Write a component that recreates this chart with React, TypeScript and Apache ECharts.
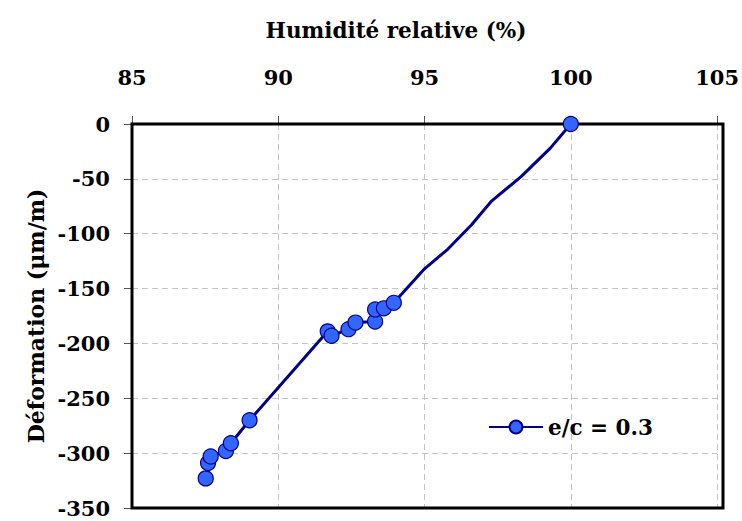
import React, { useEffect, useRef } from "react";
import * as echarts from "echarts";

// Relative humidity (%) and deformation (µm/m); marked = drawn with a marker
const humidity = [87.52, 87.6, 87.69, 88.21, 88.38, 89.02, 91.69, 91.82, 92.4, 92.64, 93.31, 93.31, 93.61, 93.95, 95.0, 95.8, 96.6, 97.3, 98.3, 99.3, 100];
const deformation = [-323, -309, -303, -298, -291, -270, -189, -193, -187, -181, -180, -169, -168, -163, -132, -114, -92, -70, -48, -22, 0];
const marked = [true, true, true, true, true, true, true, true, true, true, true, true, true, true, false, false, false, false, false, false, true];

const seriesName = "e/c = 0.3";
const xTitle = "Humidité relative (%)";
const yTitle = "Déformation (μm/m)";
const xMin = 85, xMax = 105, xStep = 5;
const yMin = -350, yMax = 0, yStep = 50;

const FONT = "'DejaVu Serif', serif";
const G = { left: 132, top: 124, right: 19, bottom: 13, w: 742, h: 521 };

export default function App() {
  const ref = useRef<HTMLDivElement>(null);
  useEffect(() => {
    if (!ref.current) return;
    const chart = echarts.init(ref.current, undefined, { renderer: "svg" });
    const data = humidity.map((h, i) => {
      const item: any = { value: [h, deformation[i]] };
      if (!marked[i]) item.symbol = "none";
      return item;
    });
    const split = { show: true, lineStyle: { color: "#c4c4c4", type: [6, 4] as any, width: 1 } };
    const lbl = { fontFamily: FONT, fontWeight: "bold", fontSize: 21, color: "#000" };
    chart.setOption({
      animation: false,
      backgroundColor: "#fff",
      textStyle: { fontFamily: FONT },
      grid: { left: G.left, right: G.right, top: G.top, bottom: G.bottom, show: false },
      graphic: [
        {
          type: "text",
          x: 396,
          y: 30,
          style: { text: xTitle, fontFamily: FONT, fontWeight: "bold", fontSize: 21.5, fill: "#000", textAlign: "center", textVerticalAlign: "middle" },
        },
        {
          type: "rect",
          z: 1,
          shape: { x: G.left, y: G.top, width: G.w - G.left - G.right, height: G.h - G.top - G.bottom },
          style: { fill: "none", stroke: "#000", lineWidth: 3 },
        },
      ],
      legend: {
        show: true,
        left: 488,
        top: 416,
        padding: 0,
        itemWidth: 54,
        itemHeight: 16,
        textStyle: { fontFamily: FONT, fontWeight: "bold", fontSize: 21.5, color: "#000" },
        data: [seriesName],
      },
      xAxis: {
        type: "value",
        position: "top",
        min: xMin,
        max: xMax,
        interval: xStep,
        axisLine: { show: false },
        axisTick: { show: true, inside: false, length: 8, lineStyle: { color: "#555", width: 1 } },
        axisLabel: { margin: 36, ...lbl },
        splitLine: split,
      },
      yAxis: {
        type: "value",
        min: yMin,
        max: yMax,
        interval: yStep,
        name: yTitle,
        nameLocation: "middle",
        nameGap: 84,
        nameTextStyle: { fontFamily: FONT, fontWeight: "bold", fontSize: 22, color: "#000" },
        axisLine: { show: false },
        axisTick: { show: true, inside: false, length: 8, lineStyle: { color: "#555", width: 1 } },
        axisLabel: { margin: 22, ...lbl },
        splitLine: split,
      },
      series: [
        {
          name: seriesName,
          type: "line",
          data,
          symbol: "circle",
          symbolSize: 15,
          showSymbol: true,
          lineStyle: { color: "#000088", width: 3 },
          itemStyle: { color: "#3366ff", borderColor: "#000088", borderWidth: 1.2 },
          z: 3,
        },
      ],
    });
    return () => chart.dispose();
  }, []);
  return <div ref={ref} style={{ position: "fixed", left: 0, top: 0, width: 742, height: 521 }} />;
}
